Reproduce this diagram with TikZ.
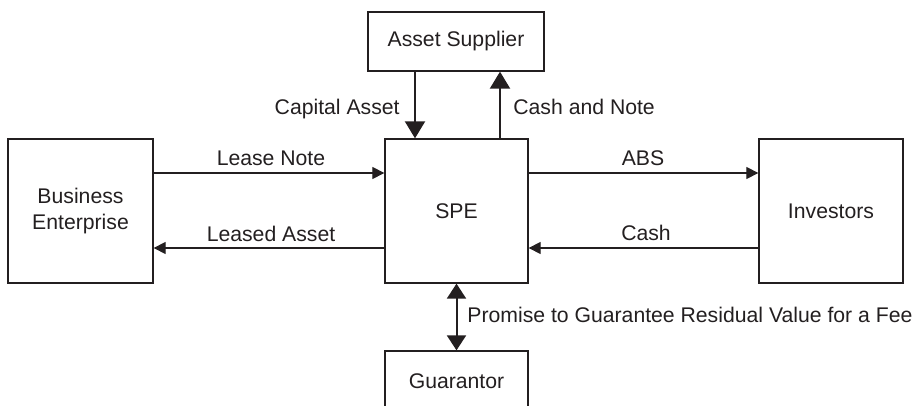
\documentclass[tikz,border=0pt]{standalone}
\usepackage{fontspec}
\setmainfont{Liberation Sans}
\usepackage{xcolor}
\usetikzlibrary{arrows.meta,positioning}
\definecolor{ink}{HTML}{231F20}

\begin{document}
\begin{tikzpicture}[x=0.5pt,y=-0.5pt,font=\fontsize{10.6}{12.7}\selectfont,color=ink,
  box/.style={draw=ink,line width=0.65pt,align=center,inner sep=0pt},
  thin/.style={line width=0.6pt,-{Triangle[length=6pt,width=6pt]}},
  thick/.style={line width=1pt,-{Triangle[length=8.5pt,width=10pt]}},
  lbl/.style={inner sep=0pt}]
  \useasboundingbox (0,0) rectangle (917,406);
  % boxes
  \node[box,minimum width=88pt,minimum height=29.5pt] (sup) at (456,41.5) {Asset Supplier};
  \node[box,minimum width=72.5pt,minimum height=72pt] (biz) at (80.5,211) {Business\\Enterprise};
  \node[box,minimum width=71.5pt,minimum height=72pt] (spe) at (456.5,211) {SPE};
  \node[box,minimum width=72pt,minimum height=72pt] (inv) at (831,211) {Investors};
  \node[box,minimum width=71.5pt,minimum height=30pt] (gua) at (456.5,381) {Guarantor};
  % rows and columns of the connectors
  \coordinate (capx) at (415,0);
  \coordinate (cnx) at (500,0);
  \coordinate (topy) at (0,173);
  \coordinate (boty) at (0,248);
  % connectors
  \draw[thick] (sup.south -| capx) -- (spe.north -| capx);
  \draw[thick] (spe.north -| cnx) -- (sup.south -| cnx);
  \draw[thin] (biz.east |- topy) -- (spe.west |- topy);
  \draw[thin] (spe.west |- boty) -- (biz.east |- boty);
  \draw[thin] (spe.east |- topy) -- (inv.west |- topy);
  \draw[thin] (inv.west |- boty) -- (spe.east |- boty);
  \draw[thick,{Triangle[length=7.5pt,width=9.5pt]}-{Triangle[length=7.5pt,width=9.5pt]}] (spe.south) -- (gua.north);
  % labels
  \node[lbl,anchor=base east] (capl) at (400,115) {Capital Asset};
  \node[lbl,anchor=base west] (cnl) at (513,115) {Cash and Note};
  \node[lbl,anchor=base] (lnl) at (271,166) {Lease Note};
  \node[lbl,anchor=base] (lal) at (271,242) {Leased Asset};
  \node[lbl,anchor=base] (absl) at (643,166) {ABS};
  \node[lbl,anchor=base] (cashl) at (646,241) {Cash};
  \node[lbl,anchor=base west] (prl) at (467,323) {Promise to Guarantee Residual Value for a Fee};
\end{tikzpicture}
\end{document}
